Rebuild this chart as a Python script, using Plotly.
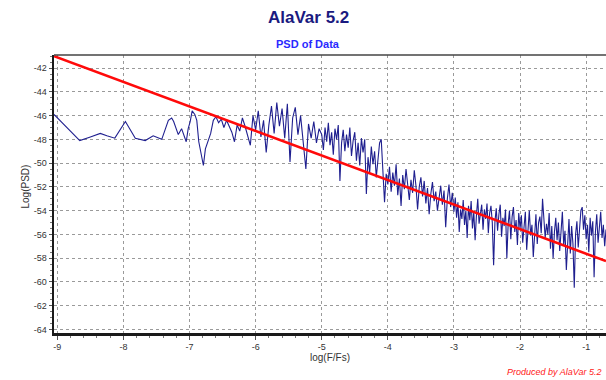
import plotly.graph_objects as go

# ---------------- data ----------------
# low-frequency part of the PSD
x_low = [-9.05, -8.85, -8.66, -8.50, -8.35, -8.25, -8.13, -7.97, -7.82, -7.67,
         -7.55, -7.42, -7.32, -7.27, -7.24, -7.17, -7.12, -7.05, -7.02, -6.99,
         -6.96, -6.92, -6.89, -6.86, -6.79, -6.76, -6.73, -6.68, -6.64]
y_low = [-45.9, -47.0, -48.1, -47.8, -47.5, -47.7, -47.9, -46.5, -47.9, -48.1,
         -47.7, -48.0, -46.4, -46.2, -46.5, -47.6, -47.1, -48.2, -47.1, -46.5,
         -45.6, -45.9, -46.4, -48.2, -50.2, -48.8, -48.3, -47.5, -46.4]

x_mid1 = [-6.60, -6.56, -6.52, -6.48, -6.44, -6.40, -6.36, -6.32, -6.28, -6.24,
          -6.20, -6.16, -6.12, -6.08, -6.04, -6.00, -5.96, -5.92, -5.88, -5.84,
          -5.80, -5.76, -5.72, -5.68, -5.64, -5.60, -5.56, -5.52, -5.48, -5.44,
          -5.40, -5.36, -5.32, -5.28, -5.24, -5.20, -5.16, -5.12, -5.08, -5.04]
y_mid1 = [-46.1, -46.6, -46.3, -47.0, -46.4, -46.9, -47.4, -48.2, -46.8, -47.3,
          -46.2, -46.9, -47.6, -48.5, -46.0, -47.2, -45.6, -47.8, -46.4, -49.1,
          -46.8, -45.2, -47.5, -44.9, -46.9, -45.4, -47.9, -45.0, -49.9, -46.2,
          -45.3, -47.6, -46.0, -48.4, -50.5, -46.7, -47.9, -46.5, -48.3, -47.1]

x_mid2 = [-5.000, -4.975, -4.950, -4.925, -4.900, -4.875, -4.850, -4.825, -4.800, -4.775,
          -4.750, -4.725, -4.700, -4.675, -4.650, -4.625, -4.600, -4.575, -4.550, -4.525,
          -4.500, -4.475, -4.450, -4.425, -4.400, -4.375, -4.350, -4.325, -4.300, -4.275,
          -4.250, -4.225, -4.200, -4.175, -4.150, -4.125, -4.100, -4.075, -4.050, -4.025,
          -4.000, -3.975, -3.950, -3.925, -3.900, -3.875, -3.850, -3.825, -3.800, -3.775,
          -3.750, -3.725, -3.700, -3.675, -3.650, -3.625, -3.600, -3.575, -3.550, -3.525,
          -3.500, -3.475, -3.450, -3.425, -3.400, -3.375, -3.350, -3.325, -3.300, -3.275,
          -3.250, -3.225, -3.200, -3.175, -3.150, -3.125, -3.100, -3.075, -3.050, -3.025,
          -3.000]
y_mid2 = [-47.6, -48.9, -47.0, -48.2, -46.6, -48.5, -47.4, -49.3, -47.1, -48.0,
          -46.8, -51.5, -48.3, -47.2, -49.0, -47.6, -48.7, -47.0, -49.4, -48.1,
          -47.4, -49.8, -48.3, -50.2, -47.9, -49.1, -48.0, -52.6, -49.5, -50.8,
          -48.6, -50.1, -49.0, -51.2, -49.6, -48.3, -48.0, -50.4, -53.3, -50.9,
          -51.8, -50.3, -52.4, -50.8, -51.9, -50.1, -52.7, -51.3, -53.6, -51.0,
          -52.2, -50.5, -51.7, -53.1, -51.4, -52.5, -50.6, -51.9, -53.9, -52.0,
          -51.2, -52.8, -51.5, -53.4, -52.1, -54.3, -52.6, -51.6, -53.2, -52.4,
          -54.0, -52.7, -51.9, -53.5, -52.3, -55.4, -53.0, -51.8, -53.7, -52.5,
          -54.1]

x_high = [-2.98, -2.96, -2.94, -2.92, -2.90, -2.88, -2.86, -2.84, -2.82, -2.80,
          -2.78, -2.76, -2.74, -2.72, -2.70, -2.68, -2.66, -2.64, -2.62, -2.60,
          -2.58, -2.56, -2.54, -2.52, -2.50, -2.48, -2.46, -2.44, -2.42, -2.40,
          -2.38, -2.36, -2.34, -2.32, -2.30, -2.28, -2.26, -2.24, -2.22, -2.20,
          -2.18, -2.16, -2.14, -2.12, -2.10, -2.08, -2.06, -2.04, -2.02, -2.00,
          -1.98, -1.96, -1.94, -1.92, -1.90, -1.88, -1.86, -1.84, -1.82, -1.80,
          -1.78, -1.76, -1.74, -1.72, -1.70, -1.68, -1.66, -1.64, -1.62, -1.60,
          -1.58, -1.56, -1.54, -1.52, -1.50, -1.48, -1.46, -1.44, -1.42, -1.40,
          -1.38, -1.36, -1.34, -1.32, -1.30, -1.28, -1.26, -1.24, -1.22, -1.20,
          -1.18, -1.16, -1.14, -1.12, -1.10, -1.08, -1.06, -1.04, -1.02, -1.00,
          -0.98, -0.96, -0.94, -0.92, -0.90, -0.88, -0.86, -0.84, -0.82, -0.80,
          -0.78, -0.76, -0.74, -0.72, -0.70, -0.68]
y_high = [-52.9, -54.6, -53.3, -55.8, -53.9, -54.7, -53.1, -55.2, -54.0, -56.3,
          -53.6, -54.8, -53.2, -55.5, -54.1, -56.5, -54.4, -53.0, -55.1, -54.3,
          -53.5, -55.6, -53.9, -54.7, -53.4, -55.9, -54.2, -53.6, -55.0, -58.6,
          -54.9, -53.8, -55.7, -54.3, -53.5, -56.2, -54.6, -55.3, -53.9, -58.0,
          -55.1, -54.0, -56.4, -54.5, -53.7, -55.8, -54.8, -56.9, -54.2, -55.5,
          -54.4, -56.7, -55.0, -54.1, -57.3, -55.4, -54.0, -56.1, -55.2, -57.9,
          -55.6, -54.3, -56.8, -55.0, -54.5, -55.9, -53.0, -54.8, -56.3, -55.1,
          -56.0, -54.2, -57.2, -55.3, -58.0, -55.8, -54.6, -56.5, -55.0, -57.4,
          -55.4, -54.1, -56.9, -55.7, -59.0, -56.2, -54.7, -57.6, -55.3, -56.8,
          -60.5, -56.0, -54.9, -57.1, -55.5, -54.0, -53.7, -55.6, -54.4, -56.4,
          -55.2, -57.5, -54.6, -56.1, -54.9, -59.6, -55.8, -54.3, -56.7, -55.0,
          -54.1, -56.3, -55.2, -57.0, -55.6, -56.2]

# fitted line end points
fit_x = [-9.05, -0.70]
fit_y = [-41.0, -58.25]

x_ticks = [-9, -8, -7, -6, -5, -4, -3, -2, -1]
y_ticks = [-42, -44, -46, -48, -50, -52, -54, -56, -58, -60, -62, -64]

title_text = "AlaVar 5.2"
subtitle_text = "PSD of Data"
x_label = "log(F/Fs)"
y_label = "Log(PSD)"
credit_text = "Produced by AlaVar 5.2"

# ---------------- figure ----------------
psd_x = x_low + x_mid1 + x_mid2 + x_high
psd_y = y_low + y_mid1 + y_mid2 + y_high

FONT = "Liberation Sans, Arial, sans-serif"
W, H = 606, 380
ML, MR, MT, MB = 54, 0, 55, 47

fig = go.Figure()
fig.add_trace(go.Scatter(x=psd_x, y=psd_y, mode="lines",
                         line=dict(color="#1f1f8f", width=1.1),
                         hoverinfo="skip", showlegend=False))
fig.add_trace(go.Scatter(x=fit_x, y=fit_y, mode="lines",
                         line=dict(color="#ff0a0a", width=2.6),
                         hoverinfo="skip", showlegend=False))

grid = dict(showgrid=True, gridcolor="#9a9a9a", gridwidth=1, griddash="3px,3px")


def px_to_paper(px, py):
    return (px - ML) / (W - ML - MR), (H - MB - py) / (H - MT - MB)


def note(text, px, py, size, color, **kw):
    x, y = px_to_paper(px, py)
    return dict(text=text, x=x, y=y, xref="paper", yref="paper", showarrow=False,
                yanchor="middle", font=dict(size=size, color=color, family=FONT), **kw)


fig.update_layout(
    width=W, height=H,
    margin=dict(l=ML, r=MR, t=MT, b=MB),
    paper_bgcolor="white", plot_bgcolor="white",
    font=dict(family=FONT, size=9, color="#333333"),
    showlegend=False,
    hovermode=False,
    xaxis=dict(range=[-9.05, -0.70], tickvals=x_ticks,
               ticktext=[str(v) for v in x_ticks],
               showline=True, linecolor="#1a1a1a", linewidth=2.5,
               ticks="outside", ticklen=4, tickcolor="#555", tickwidth=1,
               minor=dict(dtick=0.2, ticks="outside", ticklen=2, tickcolor="#777", showgrid=False),
               zeroline=False, tickfont=dict(size=9, color="#333"), **grid),
    yaxis=dict(range=[-64.3, -40.9], tickvals=y_ticks,
               ticktext=[str(v) for v in y_ticks],
               showline=True, linecolor="#1a1a1a", linewidth=2.5,
               ticks="outside", ticklen=3, tickcolor="#555", tickwidth=1,
               minor=dict(dtick=0.5, ticks="outside", ticklen=2, tickcolor="#777", showgrid=False),
               zeroline=False, tickfont=dict(size=9, color="#333"), **grid),
    shapes=[dict(type="line", xref="paper", yref="paper", x0=0, x1=1, y0=1, y1=1,
                 line=dict(color="#444", width=1.5))],
    annotations=[
        note("<b>%s</b>" % title_text, 308, 18, 17, "#1a1a80"),
        note("<b>%s</b>" % subtitle_text, 308, 44, 11, "#2a2aff"),
        note(x_label, 330, 357, 10, "#333"),
        note(y_label, 17, 187, 10, "#333", textangle=-90),
        note("<i>%s</i>" % credit_text, 603, 372, 9, "#ff2020", xanchor="right"),
    ],
)

fig.write_html("out.html",
               config={"displayModeBar": False, "staticPlot": True},
               post_script="document.body.style.margin='0';document.body.style.padding='0';")
